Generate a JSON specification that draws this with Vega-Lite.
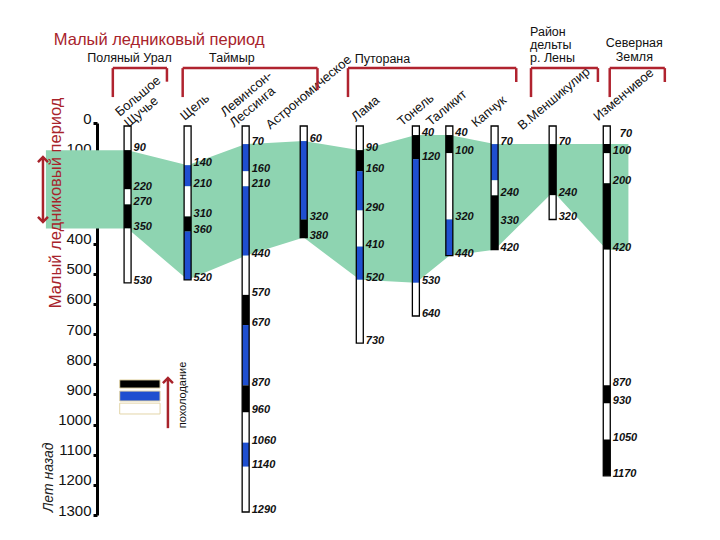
{
  "$schema": "https://vega.github.io/schema/vega-lite/v6.json",
  "width": 623,
  "height": 392,
  "autosize": {"type": "none"},
  "padding": {"left": 97, "top": 123, "right": 0, "bottom": 25},
  "background": "white",
  "config": {
    "view": {"stroke": null},
    "font": "Liberation Sans",
    "axisY": {"grid": false, "domainColor": "black", "domainWidth": 3, "tickColor": "black", "tickWidth": 3, "tickSize": 4,
      "labelFont": "Liberation Sans", "labelFontSize": 15, "labelColor": "#111", "labelPadding": 2,
      "labelBaseline": "alphabetic", "labelFlush": false, "labelOverlap": false, "zindex": 1, "title": null}
  },
  "datasets": {
    "green": [
      {"pos": 40, "top": 90, "bottom": 350},
      {"pos": 123, "top": 90, "bottom": 350},
      {"pos": 184, "top": 140, "bottom": 520},
      {"pos": 243, "top": 70, "bottom": 440},
      {"pos": 302, "top": 60, "bottom": 380},
      {"pos": 359, "top": 90, "bottom": 520},
      {"pos": 416, "top": 40, "bottom": 530},
      {"pos": 450, "top": 40, "bottom": 440},
      {"pos": 496, "top": 70, "bottom": 420},
      {"pos": 552, "top": 70, "bottom": 240},
      {"pos": 559, "top": 70, "bottom": 240},
      {"pos": 610, "top": 70, "bottom": 420},
      {"pos": 632, "top": 70, "bottom": 420}
    ],
    "segments": [
      {"pos": 123, "from": 10, "to": 90, "c": 0},
      {"pos": 123, "from": 90, "to": 220, "c": 2},
      {"pos": 123, "from": 220, "to": 270, "c": 0},
      {"pos": 123, "from": 270, "to": 350, "c": 2},
      {"pos": 123, "from": 350, "to": 530, "c": 0},
      {"pos": 184, "from": 10, "to": 140, "c": 0},
      {"pos": 184, "from": 140, "to": 210, "c": 1},
      {"pos": 184, "from": 210, "to": 310, "c": 0},
      {"pos": 184, "from": 310, "to": 360, "c": 2},
      {"pos": 184, "from": 360, "to": 520, "c": 1},
      {"pos": 243, "from": 10, "to": 70, "c": 0},
      {"pos": 243, "from": 70, "to": 160, "c": 1},
      {"pos": 243, "from": 160, "to": 210, "c": 0},
      {"pos": 243, "from": 210, "to": 440, "c": 1},
      {"pos": 243, "from": 440, "to": 570, "c": 0},
      {"pos": 243, "from": 570, "to": 670, "c": 2},
      {"pos": 243, "from": 670, "to": 870, "c": 1},
      {"pos": 243, "from": 870, "to": 960, "c": 2},
      {"pos": 243, "from": 960, "to": 1060, "c": 0},
      {"pos": 243, "from": 1060, "to": 1140, "c": 1},
      {"pos": 243, "from": 1140, "to": 1290, "c": 0},
      {"pos": 302, "from": 10, "to": 60, "c": 0},
      {"pos": 302, "from": 60, "to": 320, "c": 1},
      {"pos": 302, "from": 320, "to": 380, "c": 2},
      {"pos": 359, "from": 10, "to": 90, "c": 0},
      {"pos": 359, "from": 90, "to": 160, "c": 2},
      {"pos": 359, "from": 160, "to": 290, "c": 1},
      {"pos": 359, "from": 290, "to": 410, "c": 0},
      {"pos": 359, "from": 410, "to": 520, "c": 1},
      {"pos": 359, "from": 520, "to": 730, "c": 0},
      {"pos": 416, "from": 10, "to": 40, "c": 0},
      {"pos": 416, "from": 40, "to": 120, "c": 2},
      {"pos": 416, "from": 120, "to": 530, "c": 1},
      {"pos": 416, "from": 530, "to": 640, "c": 0},
      {"pos": 450, "from": 10, "to": 40, "c": 0},
      {"pos": 450, "from": 40, "to": 100, "c": 2},
      {"pos": 450, "from": 100, "to": 320, "c": 0},
      {"pos": 450, "from": 320, "to": 440, "c": 1},
      {"pos": 496, "from": 10, "to": 70, "c": 0},
      {"pos": 496, "from": 70, "to": 190, "c": 1},
      {"pos": 496, "from": 190, "to": 240, "c": 0},
      {"pos": 496, "from": 240, "to": 420, "c": 2},
      {"pos": 555, "from": 10, "to": 70, "c": 0},
      {"pos": 555, "from": 70, "to": 240, "c": 2},
      {"pos": 555, "from": 240, "to": 320, "c": 0},
      {"pos": 610, "from": 10, "to": 70, "c": 0},
      {"pos": 610, "from": 70, "to": 100, "c": 2},
      {"pos": 610, "from": 100, "to": 200, "c": 0},
      {"pos": 610, "from": 200, "to": 420, "c": 2},
      {"pos": 610, "from": 420, "to": 870, "c": 0},
      {"pos": 610, "from": 870, "to": 930, "c": 2},
      {"pos": 610, "from": 930, "to": 1050, "c": 0},
      {"pos": 610, "from": 1050, "to": 1170, "c": 2}
    ],
    "cols": [
      {"name": "Большое\nЩучье", "pos": 123, "lpos": 115, "ly": -20, "top": 10, "bottom": 530},
      {"name": "Щель", "pos": 184, "lpos": 181, "ly": -7, "top": 10, "bottom": 520},
      {"name": "Левинсон-\nЛессинга", "pos": 243, "lpos": 222, "ly": -20, "top": 10, "bottom": 1290},
      {"name": "Астрономическое", "pos": 302, "lpos": 268, "ly": 22, "top": 10, "bottom": 380},
      {"name": "Лама", "pos": 359, "lpos": 355, "ly": -3, "top": 10, "bottom": 730},
      {"name": "Тонель", "pos": 416, "lpos": 402, "ly": 12, "top": 10, "bottom": 640},
      {"name": "Таликит", "pos": 450, "lpos": 431, "ly": 12, "top": 10, "bottom": 440},
      {"name": "Капчук", "pos": 496, "lpos": 477, "ly": 16, "top": 10, "bottom": 420},
      {"name": "В.Меншикулир", "pos": 555, "lpos": 524, "ly": 25, "top": 10, "bottom": 320},
      {"name": "Изменчивое", "pos": 610, "lpos": 601, "ly": -5, "top": 10, "bottom": 1170}
    ],
    "vals": [
      {"pos": 123, "v": 90}, {"pos": 123, "v": 220}, {"pos": 123, "v": 270}, {"pos": 123, "v": 350}, {"pos": 123, "v": 530},
      {"pos": 184, "v": 140}, {"pos": 184, "v": 210}, {"pos": 184, "v": 310}, {"pos": 184, "v": 360}, {"pos": 184, "v": 520},
      {"pos": 243, "v": 70}, {"pos": 243, "v": 160}, {"pos": 243, "v": 210}, {"pos": 243, "v": 440}, {"pos": 243, "v": 570}, {"pos": 243, "v": 670}, {"pos": 243, "v": 870}, {"pos": 243, "v": 960}, {"pos": 243, "v": 1060}, {"pos": 243, "v": 1140}, {"pos": 243, "v": 1290},
      {"pos": 302, "v": 60}, {"pos": 302, "v": 320}, {"pos": 302, "v": 380},
      {"pos": 359, "v": 90}, {"pos": 359, "v": 160}, {"pos": 359, "v": 290}, {"pos": 359, "v": 410}, {"pos": 359, "v": 520}, {"pos": 359, "v": 730},
      {"pos": 416, "v": 40}, {"pos": 416, "v": 120}, {"pos": 416, "v": 530}, {"pos": 416, "v": 640},
      {"pos": 450, "v": 40}, {"pos": 450, "v": 100}, {"pos": 450, "v": 320}, {"pos": 450, "v": 440},
      {"pos": 496, "v": 70}, {"pos": 496, "v": 240}, {"pos": 496, "v": 330}, {"pos": 496, "v": 420},
      {"pos": 555, "v": 70}, {"pos": 555, "v": 240}, {"pos": 555, "v": 320},
      {"pos": 610, "v": 100}, {"pos": 610, "v": 200}, {"pos": 610, "v": 420}, {"pos": 610, "v": 870}, {"pos": 610, "v": 930}, {"pos": 610, "v": 1050}, {"pos": 610, "v": 1170}
    ],
    "brackets": [
      {"x": 108, "x2": 163, "y": -182, "y2": -182},
      {"x": 108, "x2": 108, "y": -182, "y2": -86},
      {"x": 163, "x2": 163, "y": -182, "y2": -137},
      {"x": 179, "x2": 316, "y": -182, "y2": -182},
      {"x": 179, "x2": 179, "y": -182, "y2": -86},
      {"x": 316, "x2": 316, "y": -182, "y2": -109},
      {"x": 347, "x2": 518, "y": -182, "y2": -182},
      {"x": 347, "x2": 347, "y": -182, "y2": -86},
      {"x": 518, "x2": 518, "y": -182, "y2": -136},
      {"x": 533, "x2": 601, "y": -182, "y2": -182},
      {"x": 533, "x2": 533, "y": -182, "y2": -86},
      {"x": 601, "x2": 601, "y": -182, "y2": -136},
      {"x": 613, "x2": 669, "y": -182, "y2": -182},
      {"x": 613, "x2": 613, "y": -182, "y2": -86},
      {"x": 669, "x2": 669, "y": -182, "y2": -136}
    ],
    "legend": [
      {"c": 2, "y1": 852, "y2": 879},
      {"c": 1, "y1": 889, "y2": 922},
      {"c": 0, "y1": 929, "y2": 965}
    ]
  },
  "layer": [
    {
      "data": {"name": "green"},
      "mark": {"type": "area", "color": "#8ed4b1", "opacity": 1, "interpolate": "linear"},
      "encoding": {
        "x": {"field": "pos", "type": "quantitative", "scale": {"domain": [97, 720], "nice": false, "zero": false}, "axis": null},
        "y": {"field": "top", "type": "quantitative", "title": null, "scale": {"domain": [0, 1300], "reverse": true, "nice": false, "zero": false},
          "axis": {"values": [0, 100, 200, 300, 400, 500, 600, 700, 800, 900, 1000, 1100, 1200, 1300], "format": "d", "labelOverlap": false, "title": null}},
        "y2": {"field": "bottom"}
      }
    },
    {
      "data": {"name": "segments"},
      "mark": {"type": "bar", "size": 7},
      "encoding": {
        "x": {"field": "pos", "type": "quantitative", "scale": {"domain": [97, 720], "nice": false, "zero": false}, "axis": null},
        "y": {"field": "from", "type": "quantitative", "title": null, "scale": {"domain": [0, 1300], "reverse": true, "nice": false, "zero": false},
          "axis": {"values": [0, 100, 200, 300, 400, 500, 600, 700, 800, 900, 1000, 1100, 1200, 1300], "format": "d", "labelOverlap": false, "title": null}},
        "y2": {"field": "to"},
        "color": {"field": "c", "type": "nominal", "scale": {"domain": [0, 1, 2], "range": ["#ffffff", "#1f4fd0", "#000000"]}, "legend": null}
      }
    },
    {
      "data": {"name": "cols"},
      "mark": {"type": "bar", "size": 7, "fill": null, "fillOpacity": 0, "stroke": "black", "strokeWidth": 1.3},
      "encoding": {
        "x": {"field": "pos", "type": "quantitative", "scale": {"domain": [97, 720], "nice": false, "zero": false}, "axis": null},
        "y": {"field": "top", "type": "quantitative", "title": null, "scale": {"domain": [0, 1300], "reverse": true, "nice": false, "zero": false},
          "axis": {"values": [0, 100, 200, 300, 400, 500, 600, 700, 800, 900, 1000, 1100, 1200, 1300], "format": "d", "labelOverlap": false, "title": null}},
        "y2": {"field": "bottom"}
      }
    },
    {
      "data": {"name": "vals"},
      "mark": {"type": "text", "align": "left", "baseline": "middle", "dx": 6, "dy": -2, "fontSize": 11, "fontStyle": "italic", "fontWeight": "bold", "color": "#111"},
      "encoding": {
        "x": {"field": "pos", "type": "quantitative", "scale": {"domain": [97, 720], "nice": false, "zero": false}, "axis": null},
        "y": {"field": "v", "type": "quantitative", "title": null, "scale": {"domain": [0, 1300], "reverse": true, "nice": false, "zero": false},
          "axis": {"values": [0, 100, 200, 300, 400, 500, 600, 700, 800, 900, 1000, 1100, 1200, 1300], "format": "d", "labelOverlap": false, "title": null}},
        "text": {"field": "v", "type": "quantitative", "format": "d"}
      }
    },
    {
      "data": {"values": [{"pos": 610, "v": 70}]},
      "mark": {"type": "text", "align": "left", "baseline": "middle", "dx": 13, "dy": -10, "fontSize": 11, "fontStyle": "italic", "fontWeight": "bold", "color": "#111"},
      "encoding": {
        "x": {"field": "pos", "type": "quantitative", "scale": {"domain": [97, 720], "nice": false, "zero": false}, "axis": null},
        "y": {"field": "v", "type": "quantitative", "title": null, "scale": {"domain": [0, 1300], "reverse": true, "nice": false, "zero": false},
          "axis": {"values": [0, 100, 200, 300, 400, 500, 600, 700, 800, 900, 1000, 1100, 1200, 1300], "format": "d", "labelOverlap": false, "title": null}},
        "text": {"field": "v", "type": "quantitative", "format": "d"}
      }
    },
    {
      "data": {"name": "cols"},
      "mark": {"type": "text", "align": "left", "baseline": "alphabetic", "angle": 320, "fontSize": 13, "lineBreak": "\n", "lineHeight": 14, "color": "#111"},
      "encoding": {
        "x": {"field": "lpos", "type": "quantitative", "scale": {"domain": [97, 720], "nice": false, "zero": false}, "axis": null},
        "y": {"field": "ly", "type": "quantitative", "title": null, "scale": {"domain": [0, 1300], "reverse": true, "nice": false, "zero": false},
          "axis": {"values": [0, 100, 200, 300, 400, 500, 600, 700, 800, 900, 1000, 1100, 1200, 1300], "format": "d", "labelOverlap": false, "title": null}},
        "text": {"field": "name"}
      }
    },
    {
      "data": {"name": "brackets"},
      "mark": {"type": "rule", "color": "#b0232f", "strokeWidth": 2.5},
      "encoding": {
        "x": {"field": "x", "type": "quantitative", "scale": {"domain": [97, 720], "nice": false, "zero": false}, "axis": null},
        "x2": {"field": "x2"},
        "y": {"field": "y", "type": "quantitative", "title": null, "scale": {"domain": [0, 1300], "reverse": true, "nice": false, "zero": false},
          "axis": {"values": [0, 100, 200, 300, 400, 500, 600, 700, 800, 900, 1000, 1100, 1200, 1300], "format": "d", "labelOverlap": false, "title": null}},
        "y2": {"field": "y2"}
      }
    },
    {
      "data": {"values": [
        {"t": "Поляный Урал", "x": 125, "y": -215},
        {"t": "Таймыр", "x": 229, "y": -215},
        {"t": "Путорана", "x": 382, "y": -212},
        {"t": "Северная\nЗемля", "x": 638, "y": -265}
      ]},
      "mark": {"type": "text", "align": "center", "baseline": "middle", "fontSize": 12.5, "lineBreak": "\n", "lineHeight": 13.5, "color": "#111"},
      "encoding": {
        "x": {"field": "x", "type": "quantitative", "scale": {"domain": [97, 720], "nice": false, "zero": false}, "axis": null},
        "y": {"field": "y", "type": "quantitative", "title": null, "scale": {"domain": [0, 1300], "reverse": true, "nice": false, "zero": false},
          "axis": {"values": [0, 100, 200, 300, 400, 500, 600, 700, 800, 900, 1000, 1100, 1200, 1300], "format": "d", "labelOverlap": false, "title": null}},
        "text": {"field": "t"}
      }
    },
    {
      "data": {"values": [{"t": "Район\nдельты\nр. Лены", "x": 532, "y": -302}]},
      "mark": {"type": "text", "align": "left", "baseline": "middle", "fontSize": 12.5, "lineBreak": "\n", "lineHeight": 13, "color": "#111"},
      "encoding": {
        "x": {"field": "x", "type": "quantitative", "scale": {"domain": [97, 720], "nice": false, "zero": false}, "axis": null},
        "y": {"field": "y", "type": "quantitative", "title": null, "scale": {"domain": [0, 1300], "reverse": true, "nice": false, "zero": false},
          "axis": {"values": [0, 100, 200, 300, 400, 500, 600, 700, 800, 900, 1000, 1100, 1200, 1300], "format": "d", "labelOverlap": false, "title": null}},
        "text": {"field": "t"}
      }
    },
    {
      "data": {"values": [{"t": "Малый ледниковый период", "x": 48, "y": -275}]},
      "mark": {"type": "text", "align": "left", "baseline": "middle", "fontSize": 16.5, "color": "#a8232b"},
      "encoding": {
        "x": {"field": "x", "type": "quantitative", "scale": {"domain": [97, 720], "nice": false, "zero": false}, "axis": null},
        "y": {"field": "y", "type": "quantitative", "title": null, "scale": {"domain": [0, 1300], "reverse": true, "nice": false, "zero": false},
          "axis": {"values": [0, 100, 200, 300, 400, 500, 600, 700, 800, 900, 1000, 1100, 1200, 1300], "format": "d", "labelOverlap": false, "title": null}},
        "text": {"field": "t"}
      }
    },
    {
      "data": {"values": [{"t": "Малый ледниковый период", "x": 50, "y": 265}]},
      "mark": {"type": "text", "align": "center", "baseline": "middle", "angle": 270, "fontSize": 16.5, "color": "#a8232b"},
      "encoding": {
        "x": {"field": "x", "type": "quantitative", "scale": {"domain": [97, 720], "nice": false, "zero": false}, "axis": null},
        "y": {"field": "y", "type": "quantitative", "title": null, "scale": {"domain": [0, 1300], "reverse": true, "nice": false, "zero": false},
          "axis": {"values": [0, 100, 200, 300, 400, 500, 600, 700, 800, 900, 1000, 1100, 1200, 1300], "format": "d", "labelOverlap": false, "title": null}},
        "text": {"field": "t"}
      }
    },
    {
      "data": {"values": [{"t": "Лет назад", "x": 43, "y": 1175}]},
      "mark": {"type": "text", "align": "center", "baseline": "middle", "angle": 270, "fontSize": 14, "fontStyle": "italic", "color": "#222"},
      "encoding": {
        "x": {"field": "x", "type": "quantitative", "scale": {"domain": [97, 720], "nice": false, "zero": false}, "axis": null},
        "y": {"field": "y", "type": "quantitative", "title": null, "scale": {"domain": [0, 1300], "reverse": true, "nice": false, "zero": false},
          "axis": {"values": [0, 100, 200, 300, 400, 500, 600, 700, 800, 900, 1000, 1100, 1200, 1300], "format": "d", "labelOverlap": false, "title": null}},
        "text": {"field": "t"}
      }
    },
    {
      "data": {"values": [{"t": "похолодание", "x": 179, "y": 902}]},
      "mark": {"type": "text", "align": "center", "baseline": "middle", "angle": 270, "fontSize": 11, "color": "#111"},
      "encoding": {
        "x": {"field": "x", "type": "quantitative", "scale": {"domain": [97, 720], "nice": false, "zero": false}, "axis": null},
        "y": {"field": "y", "type": "quantitative", "title": null, "scale": {"domain": [0, 1300], "reverse": true, "nice": false, "zero": false},
          "axis": {"values": [0, 100, 200, 300, 400, 500, 600, 700, 800, 900, 1000, 1100, 1200, 1300], "format": "d", "labelOverlap": false, "title": null}},
        "text": {"field": "t"}
      }
    },
    {
      "data": {"name": "legend"},
      "mark": {"type": "bar", "stroke": "#e3d5a8", "strokeWidth": 1},
      "encoding": {
        "x": {"datum": 115, "type": "quantitative", "scale": {"domain": [97, 720], "nice": false, "zero": false}, "axis": null},
        "x2": {"datum": 156},
        "y": {"field": "y1", "type": "quantitative", "title": null, "scale": {"domain": [0, 1300], "reverse": true, "nice": false, "zero": false},
          "axis": {"values": [0, 100, 200, 300, 400, 500, 600, 700, 800, 900, 1000, 1100, 1200, 1300], "format": "d", "labelOverlap": false, "title": null}},
        "y2": {"field": "y2"},
        "color": {"field": "c", "type": "nominal", "scale": {"domain": [0, 1, 2], "range": ["#ffffff", "#1f4fd0", "#000000"]}, "legend": null}
      }
    },
    {
      "data": {"values": [{"x": 37, "y1": 113, "y2": 328}, {"x": 164, "y1": 846, "y2": 1012}]},
      "mark": {"type": "rule", "color": "#a8232b", "strokeWidth": 2.5},
      "encoding": {
        "x": {"field": "x", "type": "quantitative", "scale": {"domain": [97, 720], "nice": false, "zero": false}, "axis": null},
        "y": {"field": "y1", "type": "quantitative", "title": null, "scale": {"domain": [0, 1300], "reverse": true, "nice": false, "zero": false},
          "axis": {"values": [0, 100, 200, 300, 400, 500, 600, 700, 800, 900, 1000, 1100, 1200, 1300], "format": "d", "labelOverlap": false, "title": null}},
        "y2": {"field": "y2"}
      }
    },
    {
      "data": {"values": [{"x": 37, "y": 113}, {"x": 164, "y": 846}]},
      "mark": {"type": "point", "shape": "M-1,1L0,0L1,1", "size": 100, "filled": false, "stroke": "#a8232b", "strokeWidth": 2.5, "opacity": 1},
      "encoding": {
        "x": {"field": "x", "type": "quantitative", "scale": {"domain": [97, 720], "nice": false, "zero": false}, "axis": null},
        "y": {"field": "y", "type": "quantitative", "title": null, "scale": {"domain": [0, 1300], "reverse": true, "nice": false, "zero": false},
          "axis": {"values": [0, 100, 200, 300, 400, 500, 600, 700, 800, 900, 1000, 1100, 1200, 1300], "format": "d", "labelOverlap": false, "title": null}}
      }
    },
    {
      "data": {"values": [{"x": 37, "y": 328}]},
      "mark": {"type": "point", "shape": "M-1,-1L0,0L1,-1", "size": 100, "filled": false, "stroke": "#a8232b", "strokeWidth": 2.5, "opacity": 1},
      "encoding": {
        "x": {"field": "x", "type": "quantitative", "scale": {"domain": [97, 720], "nice": false, "zero": false}, "axis": null},
        "y": {"field": "y", "type": "quantitative", "title": null, "scale": {"domain": [0, 1300], "reverse": true, "nice": false, "zero": false},
          "axis": {"values": [0, 100, 200, 300, 400, 500, 600, 700, 800, 900, 1000, 1100, 1200, 1300], "format": "d", "labelOverlap": false, "title": null}}
      }
    }
  ]
}
